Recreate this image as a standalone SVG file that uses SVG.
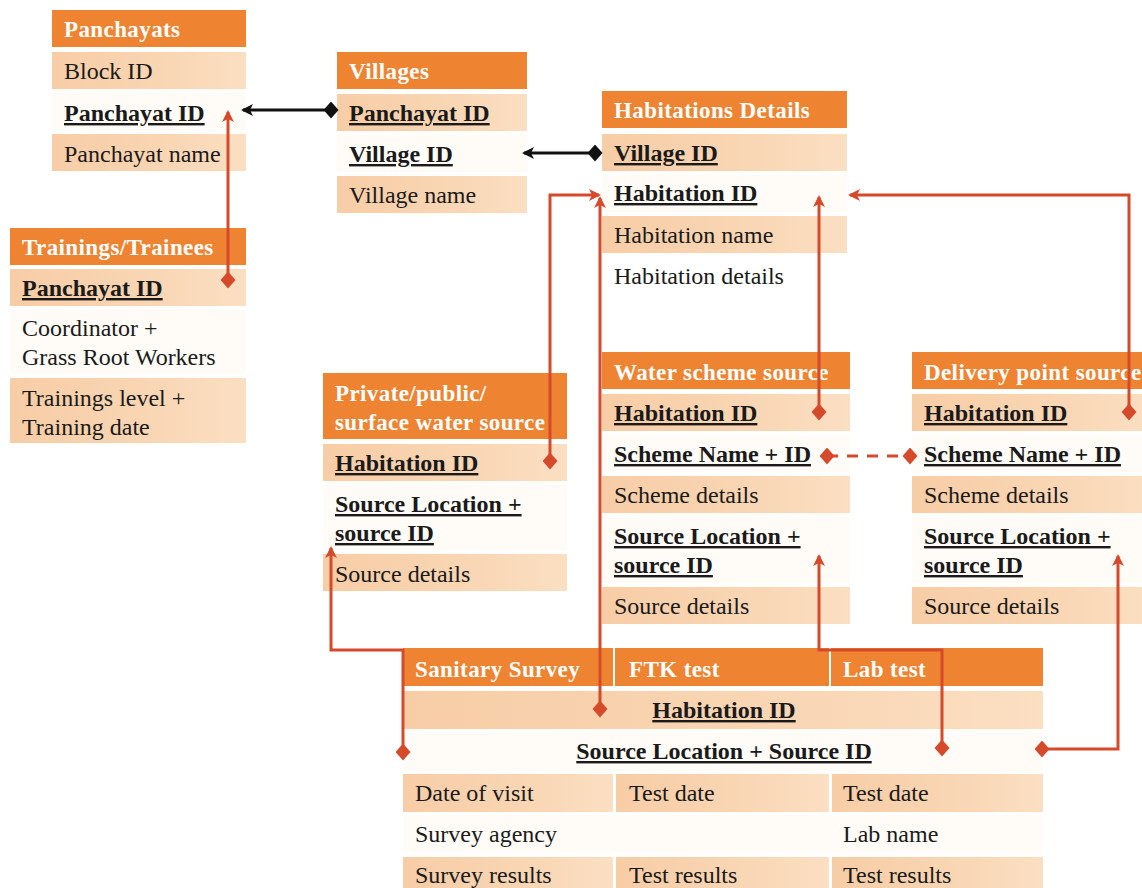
<svg xmlns="http://www.w3.org/2000/svg" width="1142" height="888" viewBox="0 0 1142 888">
  <defs>
    <style>
      .hd { fill: #EE8431; }
      .row { fill: url(#rowFill); }
      .lite { fill: #FFFCF8; }
      .ht { font-size: 23px; font-weight: bold; fill: #FFFFFF; letter-spacing: 0.4px; }
      .t { fill: #1A1A1A; }
      .k { font-weight: bold; fill: #1A1A1A; text-decoration: underline; }
      .red { fill: none; stroke: #D64A2C; stroke-width: 3; }
      .blk { fill: none; stroke: #111111; stroke-width: 3; }
      .dash { stroke-dasharray: 11 9; }
    </style>
    <linearGradient id="rowFill" x1="0" y1="0" x2="1" y2="0">
      <stop offset="0" stop-color="#F7CDA6"/>
      <stop offset="0.6" stop-color="#F9D6B4"/>
      <stop offset="1" stop-color="#FBDFC2"/>
    </linearGradient>
    <marker id="arrowRed" markerUnits="userSpaceOnUse" markerWidth="16" markerHeight="14" refX="10" refY="6" orient="auto">
      <path d="M0,0 L12,6 L0,12 L3,6 z" fill="#D64A2C"/>
    </marker>
    <marker id="arrowBlk" markerUnits="userSpaceOnUse" markerWidth="16" markerHeight="14" refX="10" refY="6" orient="auto">
      <path d="M0,0 L12,6 L0,12 L3,6 z" fill="#111111"/>
    </marker>
    <marker id="diamondRed" markerUnits="userSpaceOnUse" markerWidth="16" markerHeight="18" refX="7.5" refY="8.5">
      <path d="M0,8.5 L7.5,0 L15,8.5 L7.5,17 z" fill="#D64A2C"/>
    </marker>
    <marker id="diamondBlk" markerUnits="userSpaceOnUse" markerWidth="16" markerHeight="18" refX="7.5" refY="8.5">
      <path d="M0,8.5 L7.5,0 L15,8.5 L7.5,17 z" fill="#111111"/>
    </marker>
  </defs>

  <rect x="0" y="0" width="1142" height="888" fill="#FFFFFF"/>

  <g font-family="Liberation Serif, Times New Roman, serif" font-size="24">

  <!-- Panchayats -->
  <g id="panchayats">
    <rect class="hd" x="52" y="10" width="194" height="37"/>
    <text class="ht" x="64" y="37">Panchayats</text>
    <rect class="row" x="52" y="52" width="194" height="37"/>
    <text class="t" x="64" y="79">Block ID</text>
    <rect class="lite" x="52" y="93" width="194" height="37"/>
    <text class="k" x="64" y="121">Panchayat ID</text>
    <rect class="row" x="52" y="134" width="194" height="37"/>
    <text class="t" x="64" y="162">Panchayat name</text>
  </g>

  <!-- Villages -->
  <g id="villages">
    <rect class="hd" x="337" y="52" width="190" height="37"/>
    <text class="ht" x="349" y="79">Villages</text>
    <rect class="row" x="337" y="94" width="190" height="37"/>
    <text class="k" x="349" y="121">Panchayat ID</text>
    <rect class="lite" x="337" y="135" width="190" height="37"/>
    <text class="k" x="349" y="162">Village ID</text>
    <rect class="row" x="337" y="176" width="190" height="37"/>
    <text class="t" x="349" y="203">Village name</text>
  </g>

  <!-- Habitations Details -->
  <g id="habitations">
    <rect class="hd" x="602" y="91" width="245" height="37"/>
    <text class="ht" x="614" y="118">Habitations Details</text>
    <rect class="row" x="602" y="134" width="245" height="37"/>
    <text class="k" x="614" y="161">Village ID</text>
    <rect class="lite" x="602" y="175" width="245" height="37"/>
    <text class="k" x="614" y="201">Habitation ID</text>
    <rect class="row" x="602" y="216" width="245" height="37"/>
    <text class="t" x="614" y="243">Habitation name</text>
    <text class="t" x="614" y="284">Habitation details</text>
  </g>

  <!-- Trainings/Trainees -->
  <g id="trainings">
    <rect class="hd" x="10" y="228" width="236" height="37"/>
    <text class="ht" x="22" y="255">Trainings/Trainees</text>
    <rect class="row" x="10" y="269" width="236" height="37"/>
    <text class="k" x="22" y="296">Panchayat ID</text>
    <rect class="lite" x="10" y="310" width="236" height="64"/>
    <text class="t" x="22" y="336">Coordinator +</text>
    <text class="t" x="22" y="365">Grass Root Workers</text>
    <rect class="row" x="10" y="378" width="236" height="65"/>
    <text class="t" x="22" y="406">Trainings level +</text>
    <text class="t" x="22" y="435">Training date</text>
  </g>

  <!-- Private/public/surface water source -->
  <g id="private-source">
    <rect class="hd" x="323" y="373" width="244" height="66"/>
    <text class="ht" x="335" y="401">Private/public/</text>
    <text class="ht" x="335" y="430">surface water source</text>
    <rect class="row" x="323" y="444" width="244" height="37"/>
    <text class="k" x="335" y="471">Habitation ID</text>
    <rect class="lite" x="323" y="485" width="244" height="65"/>
    <text class="k" x="335" y="512">Source Location +</text>
    <text class="k" x="335" y="541">source ID</text>
    <rect class="row" x="323" y="554" width="244" height="37"/>
    <text class="t" x="335" y="582">Source details</text>
  </g>

  <!-- Water scheme source -->
  <g id="water-scheme">
    <rect class="hd" x="602" y="352" width="248" height="37"/>
    <text class="ht" x="614" y="380">Water scheme source</text>
    <rect class="row" x="602" y="394" width="248" height="37"/>
    <text class="k" x="614" y="421">Habitation ID</text>
    <rect class="lite" x="602" y="435" width="248" height="37"/>
    <text class="k" x="614" y="462">Scheme Name + ID</text>
    <rect class="row" x="602" y="476" width="248" height="37"/>
    <text class="t" x="614" y="503">Scheme details</text>
    <rect class="lite" x="602" y="517" width="248" height="66"/>
    <text class="k" x="614" y="544">Source Location +</text>
    <text class="k" x="614" y="573">source ID</text>
    <rect class="row" x="602" y="587" width="248" height="37"/>
    <text class="t" x="614" y="614">Source details</text>
  </g>

  <!-- Delivery point source -->
  <g id="delivery-point">
    <rect class="hd" x="912" y="352" width="240" height="37"/>
    <text class="ht" x="924" y="380">Delivery point source</text>
    <rect class="row" x="912" y="394" width="240" height="37"/>
    <text class="k" x="924" y="421">Habitation ID</text>
    <rect class="lite" x="912" y="435" width="240" height="37"/>
    <text class="k" x="924" y="462">Scheme Name + ID</text>
    <rect class="row" x="912" y="476" width="240" height="37"/>
    <text class="t" x="924" y="503">Scheme details</text>
    <rect class="lite" x="912" y="517" width="240" height="66"/>
    <text class="k" x="924" y="544">Source Location +</text>
    <text class="k" x="924" y="573">source ID</text>
    <rect class="row" x="912" y="587" width="240" height="37"/>
    <text class="t" x="924" y="614">Source details</text>
  </g>

  <!-- Sanitary Survey / FTK test / Lab test -->
  <g id="tests">
    <rect class="hd" x="403" y="648" width="210" height="38"/>
    <rect class="hd" x="615" y="648" width="214" height="38"/>
    <rect class="hd" x="831" y="648" width="212" height="38"/>
    <text class="ht" x="415" y="677">Sanitary Survey</text>
    <text class="ht" x="629" y="677">FTK test</text>
    <text class="ht" x="843" y="677">Lab test</text>
    <rect class="row" x="403" y="691" width="640" height="38"/>
    <text class="k" x="724" y="718" text-anchor="middle">Habitation ID</text>
    <rect class="lite" x="403" y="733" width="640" height="38"/>
    <text class="k" x="724" y="759" text-anchor="middle">Source Location + Source ID</text>
    <rect class="row" x="403" y="774" width="210" height="38"/>
    <rect class="row" x="616" y="774" width="213" height="38"/>
    <rect class="row" x="832" y="774" width="211" height="38"/>
    <text class="t" x="415" y="801">Date of visit</text>
    <text class="t" x="629" y="801">Test date</text>
    <text class="t" x="843" y="801">Test date</text>
    <rect class="lite" x="403" y="815" width="640" height="38"/>
    <text class="t" x="415" y="842">Survey agency</text>
    <text class="t" x="843" y="842">Lab name</text>
    <rect class="row" x="403" y="857" width="210" height="38"/>
    <rect class="row" x="616" y="857" width="213" height="38"/>
    <rect class="row" x="832" y="857" width="211" height="38"/>
    <text class="t" x="415" y="883">Survey results</text>
    <text class="t" x="629" y="883">Test results</text>
    <text class="t" x="843" y="883">Test results</text>
  </g>

  </g>

  <!-- Relationship connectors -->
  <g id="connectors">
    <path class="blk" d="M331,110 L243,110" marker-start="url(#diamondBlk)" marker-end="url(#arrowBlk)"/>
    <path class="blk" d="M595,153 L524,153" marker-start="url(#diamondBlk)" marker-end="url(#arrowBlk)"/>
    <path class="red" d="M228,280 L228,112" marker-start="url(#diamondRed)" marker-end="url(#arrowRed)"/>
    <path class="red" d="M550,461 L550,195 L599,195" marker-start="url(#diamondRed)" marker-end="url(#arrowRed)"/>
    <path class="red" d="M819,412 L819,197" marker-start="url(#diamondRed)" marker-end="url(#arrowRed)"/>
    <path class="red" d="M1129,412 L1129,195 L850,195" marker-start="url(#diamondRed)" marker-end="url(#arrowRed)"/>
    <path class="red dash" d="M827,456 L910,456" marker-start="url(#diamondRed)" marker-end="url(#diamondRed)"/>
    <path class="red" d="M403,752 L403,650 L331,650 L331,548" marker-start="url(#diamondRed)" marker-end="url(#arrowRed)"/>
    <path class="red" d="M600,709 L600,198" marker-start="url(#diamondRed)" marker-end="url(#arrowRed)"/>
    <path class="red" d="M942,748 L942,650 L819,650 L819,556" marker-start="url(#diamondRed)" marker-end="url(#arrowRed)"/>
    <path class="red" d="M1042,749 L1118,749 L1118,556" marker-start="url(#diamondRed)" marker-end="url(#arrowRed)"/>
  </g>
</svg>
